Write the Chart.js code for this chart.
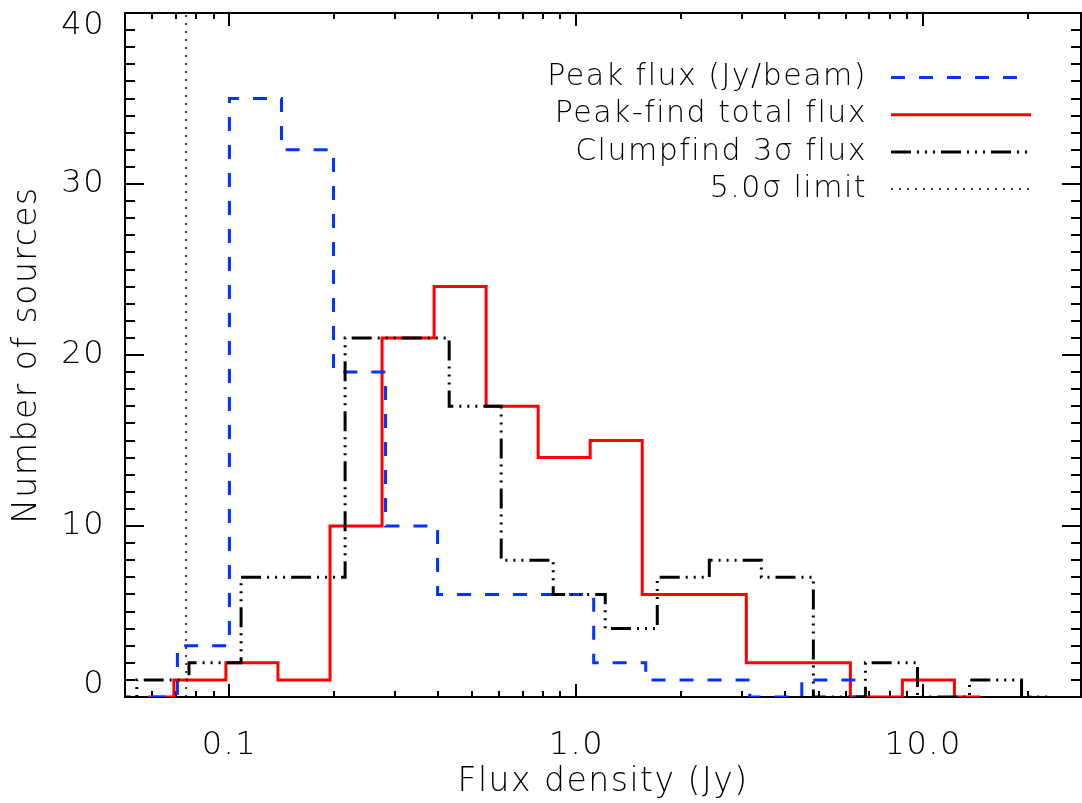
<!DOCTYPE html>
<html>
<head>
<meta charset="utf-8">
<script src="https://cdn.jsdelivr.net/npm/chart.js@4.4.1/dist/chart.umd.min.js"></script>
<style>
  html, body { margin:0; padding:0; background:#fff; }
  #wrap { width:1082px; height:803px; }
</style>
</head>
<body>
<div id="wrap"><canvas id="fluxChart"></canvas></div>
<script>
// Histogram bin centres (Jy) and counts (bins are 0.15 dex wide)
const peakBins    = [0.0596, 0.0841, 0.1189, 0.1679, 0.2371, 0.3350, 0.4732, 0.6683, 0.9441, 1.334, 1.884, 2.661, 3.758, 5.309, 7.499];
const peakCounts  = [0, 3, 35, 32, 19, 10, 6, 6, 6, 2, 1, 1, 0, 1, 0];
const totalBins   = [0.0582, 0.0822, 0.1161, 0.1641, 0.2317, 0.3273, 0.4624, 0.6531, 0.9226, 1.303, 1.841, 2.600, 3.673, 5.188, 7.328, 10.35, 14.62];
const totalCounts = [0, 1, 2, 1, 10, 21, 24, 17, 14, 15, 6, 6, 2, 2, 0, 1, 0];
const clumpBins   = [0.0455, 0.0643, 0.0909, 0.1284, 0.1813, 0.2561, 0.3618, 0.5111, 0.7219, 1.0195, 1.440, 2.034, 2.873, 4.058, 5.733, 8.098, 11.44, 16.16, 22.83];
const clumpCounts = [0, 1, 2, 7, 7, 21, 21, 17, 8, 6, 4, 7, 8, 7, 0, 2, 0, 1, 0];
const limit5sigma = 0.075;

const xTicks = [0.1, 1, 10];
const xTickLabels = ['0.1', '1.0', '10.0'];
const yTicks = [0, 10, 20, 30, 40];
const legendLabels = ['Peak flux (Jy/beam)', 'Peak-find total flux', 'Clumpfind 3σ flux', '5.0σ limit'];

const FONT = '"DejaVu Sans", "Liberation Sans", sans-serif';
const toPts = (xs, ys) => xs.map((x, i) => ({x, y: ys[i]}));

// IDL style frame: box on all four sides with inward ticks
const frameTicks = {
  id: 'frameTicks',
  beforeDraw(chart) { chart.ctx.letterSpacing = '1.5px'; },
  beforeDatasetsDraw(chart) {
    const {ctx, chartArea: a, scales: {x, y}} = chart;
    ctx.save();
    ctx.strokeStyle = '#000';
    ctx.lineWidth = 2;
    ctx.strokeRect(a.left, a.top, a.right - a.left, a.bottom - a.top);
    ctx.beginPath();
    for (let d = -2; d <= 1; d++) {
      for (let m = 1; m <= 9; m++) {
        const v = m * Math.pow(10, d);
        if (v < x.min || v > x.max) continue;
        const px = Math.round(x.getPixelForValue(v));
        const len = xTicks.includes(+v.toPrecision(3)) ? 13 : 6;
        ctx.moveTo(px, a.bottom); ctx.lineTo(px, a.bottom - len);
        ctx.moveTo(px, a.top); ctx.lineTo(px, a.top + len);
      }
    }
    for (let v = y.min; v <= y.max; v++) {
      const py = Math.round(y.getPixelForValue(v));
      const len = yTicks.includes(v) ? 19 : 10;
      ctx.moveTo(a.left, py); ctx.lineTo(a.left + len, py);
      ctx.moveTo(a.right, py); ctx.lineTo(a.right - len, py);
    }
    ctx.stroke();
    ctx.restore();
  }
};

// legend: text right aligned, line sample on the right
const legendRows = {
  id: 'legendRows',
  afterDatasetsDraw(chart) {
    const ctx = chart.ctx;
    legendLabels.forEach((lab, i) => {
      const ds = chart.data.datasets.find(d => d.label === lab);
      const yy = 77.5 + i * 37.2;
      ctx.save();
      ctx.font = '200 30px ' + FONT;
      ctx.letterSpacing = '1.5px';
      ctx.fillStyle = '#000';
      ctx.textAlign = 'right';
      ctx.textBaseline = 'middle';
      ctx.fillText(lab, 867, yy);
      ctx.strokeStyle = ds.borderColor;
      ctx.lineWidth = ds.borderWidth;
      ctx.setLineDash(ds.borderDash || []);
      ctx.beginPath();
      ctx.moveTo(891, yy);
      ctx.lineTo(1031, yy);
      ctx.stroke();
      ctx.restore();
    });
  }
};

new Chart(document.getElementById('fluxChart'), {
  type: 'line',
  data: {
    datasets: [
      { label: legendLabels[2], data: toPts(clumpBins, clumpCounts), stepped: 'middle',
        borderColor: '#000000', borderWidth: 3, borderDash: [20, 6, 2, 6, 2, 6, 2, 6], pointRadius: 0, order: 0 },
      { label: legendLabels[0], data: toPts(peakBins, peakCounts), stepped: 'middle',
        borderColor: '#0033ff', borderWidth: 3, borderDash: [14, 14], pointRadius: 0, order: 1 },
      { label: legendLabels[1], data: toPts(totalBins, totalCounts), stepped: 'middle',
        borderColor: '#ff0000', borderWidth: 3, pointRadius: 0, order: 2 },
      { label: legendLabels[3], data: [{x: limit5sigma, y: 0}, {x: limit5sigma, y: 40}],
        borderColor: '#000000', borderWidth: 1.5, borderDash: [2, 6], pointRadius: 0, order: 3 }
    ]
  },
  options: {
    responsive: true,
    maintainAspectRatio: false,
    animation: false,
    layout: { padding: { top: 13, right: 1, bottom: 0, left: 0 } },
    plugins: { legend: { display: false }, tooltip: { enabled: false } },
    scales: {
      x: {
        type: 'logarithmic', min: 0.05, max: 28.5,
        grid: { display: false }, border: { display: false },
        afterBuildTicks: s => { s.ticks = xTicks.map(v => ({value: v})); },
        afterFit: s => { s.height = 106; s.paddingLeft = 0; s.paddingRight = 0; },
        ticks: {
          autoSkip: false, maxRotation: 0, padding: 21, color: '#000',
          font: { family: FONT, size: 32, weight: '200', lineHeight: 1.2 },
          callback: v => { const i = xTicks.indexOf(v); return i < 0 ? '' : xTickLabels[i]; }
        },
        title: { display: true, text: 'Flux density (Jy)', color: '#000',
          font: { family: FONT, size: 33, weight: '200', lineHeight: 1.2 }, padding: { top: 0, bottom: 1 } }
      },
      y: {
        type: 'linear', min: 0, max: 40,
        grid: { display: false }, border: { display: false },
        afterBuildTicks: s => { s.ticks = yTicks.map(v => ({value: v})); },
        afterFit: s => { s.width = 125; s.paddingTop = 0; s.paddingBottom = 0; },
        ticks: {
          padding: 12, color: '#000',
          font: { family: FONT, size: 32, weight: '200', lineHeight: 0.8 },
          callback: v => v === 40 ? ['', '40'] : v === 0 ? ['0', ''] : String(v)
        },
        title: { display: true, text: 'Number of sources', color: '#000',
          font: { family: FONT, size: 33, weight: '200', lineHeight: 1.2 }, padding: { top: 8, bottom: 0 } }
      }
    }
  },
  plugins: [frameTicks, legendRows]
});
</script>
</body>
</html>
